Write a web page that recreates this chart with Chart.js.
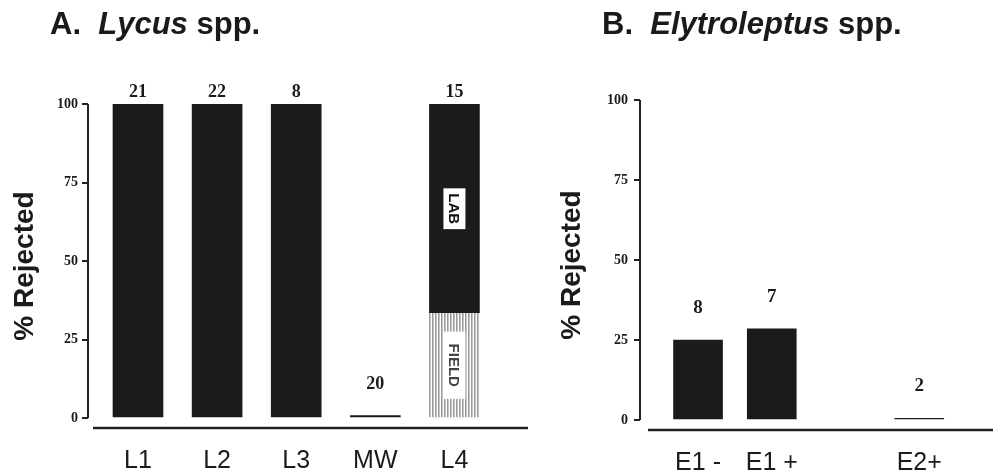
<!DOCTYPE html>
<html>
<head>
<meta charset="utf-8">
<script src="https://cdn.jsdelivr.net/npm/chart.js@4.4.1/dist/chart.umd.min.js"></script>
<style>
body { margin: 0; background: #fff; }
#wrap { position: relative; width: 993px; height: 473px; overflow: hidden; }
canvas { position: absolute; top: 0; }
.ttl { position: absolute; top: 8px; font: bold 31px "Liberation Sans", Arial, sans-serif; color: #1a1a1a; white-space: pre; line-height: 1; }
</style>
</head>
<body>
<div id="wrap">
  <canvas id="chartA" width="535" height="473" style="left:0"></canvas>
  <canvas id="chartB" width="458" height="473" style="left:535px"></canvas>
  <div class="ttl" style="left:50px">A.  <i>Lycus</i> spp.</div>
  <div class="ttl" style="left:602px">B.  <i>Elytroleptus</i> spp.</div>
</div>
<script>
// A. Lycus spp.
var catsA = ["L1", "L2", "L3", "MW", "L4"];
var fieldA = [null, null, null, null, 33.3];
var labA = [100, 100, 100, 0.8, 66.7];
var countsA = ["21", "22", "8", "20", "15"];

// B. Elytroleptus spp. (blank slot keeps the gap before E2+)
var catsB = ["E1 -", "E1 +", "", "E2+"];
var rejB = [25, 28.5, null, 0.5];
var countsB = ["8", "7", "", "2"];

var yTicks = [0, 25, 50, 75, 100];
var ink = '#1b1b1b';

function stripes() {
    var c = document.createElement('canvas');
    c.width = 3; c.height = 4;
    var g = c.getContext('2d');
    g.fillStyle = '#fff'; g.fillRect(0, 0, 3, 4);
    g.fillStyle = '#9a9a9a'; g.fillRect(0, 0, 1, 4);
    g.fillStyle = '#c4c4c4'; g.fillRect(1, 0, 1, 4);
    return g.createPattern(c, 'repeat');
}

function pts(arr) {
    return arr.map(function (v, i) { return { x: i, y: v }; });
}

// axis lines, n above bars, LAB / FIELD boxes
var extras = {
    id: 'extras',
    afterDatasetsDraw: function (chart, args, opts) {
        var ctx = chart.ctx, x = chart.scales.x, y = chart.scales.y, area = chart.chartArea;
        ctx.save();
        ctx.strokeStyle = '#222';
        ctx.lineWidth = 2;
        ctx.beginPath();
        ctx.moveTo(area.left, y.getPixelForValue(100));
        ctx.lineTo(area.left, y.getPixelForValue(0));
        ctx.stroke();
        ctx.lineWidth = 2.5;
        ctx.beginPath();
        ctx.moveTo(area.left + opts.gap, area.bottom);
        ctx.lineTo(area.right, area.bottom);
        ctx.stroke();

        ctx.font = 'bold ' + opts.nSize + 'px "Liberation Serif"';
        ctx.fillStyle = ink;
        ctx.textAlign = 'center';
        ctx.textBaseline = 'middle';
        opts.counts.forEach(function (c, i) {
            var top = 0;
            chart.data.datasets.forEach(function (ds) { top += ds.data[i].y || 0; });
            ctx.fillText(c, x.getPixelForValue(i), y.getPixelForValue(Math.min(top + 10, 103.8)));
        });

        chart.data.datasets.forEach(function (ds, d) {
            if (!ds.boxLabel) return;
            chart.getDatasetMeta(d).data.forEach(function (el, i) {
                if (opts.split[i] == null) return;
                var cx = el.x, cy = (el.y + el.base) / 2;
                ctx.save();
                ctx.translate(cx, cy);
                ctx.rotate(Math.PI / 2);
                ctx.font = 'bold 15px "Liberation Sans"';
                var w = ctx.measureText(ds.boxLabel).width + ds.boxPad * 2;
                ctx.fillStyle = '#fff';
                ctx.fillRect(-w / 2, -11, w, 22);
                ctx.fillStyle = ds.boxText;
                ctx.fillText(ds.boxLabel, 0, 1);
                ctx.restore();
            });
        });
        ctx.restore();
    }
};

function makeOptions(cfg) {
    return {
        responsive: false,
        animation: false,
        layout: { padding: { top: cfg.top, right: cfg.right, left: 0, bottom: 0 } },
        plugins: {
            legend: { display: false },
            tooltip: { enabled: false },
            extras: { gap: cfg.gap, counts: cfg.counts, split: cfg.split, nSize: cfg.nSize }
        },
        scales: {
            x: {
                type: 'linear',
                offset: false,
                min: cfg.xMin,
                max: cfg.xMax,
                stacked: true,
                grid: { display: false, offset: false },
                border: { display: false },
                afterBuildTicks: function (s) {
                    s.ticks = cfg.cats.map(function (c, i) { return { value: i }; });
                },
                afterFit: function (s) { s.height = cfg.xHeight; },
                ticks: {
                    autoSkip: false,
                    maxRotation: 0,
                    padding: 10,
                    color: ink,
                    font: { family: '"Liberation Sans"', size: 25 },
                    callback: function (v) { return cfg.cats[v]; }
                }
            },
            y: {
                min: cfg.yMin,
                max: 100,
                stacked: true,
                afterBuildTicks: function (s) {
                    s.ticks = yTicks.map(function (v) { return { value: v }; });
                },
                afterFit: function (s) { s.width = cfg.yWidth; },
                grid: { drawOnChartArea: false, tickLength: 6, color: '#222', lineWidth: 2 },
                border: { display: false },
                ticks: {
                    padding: cfg.tickPad,
                    color: ink,
                    font: { family: '"Liberation Serif"', size: 14, weight: 'bold' }
                },
                title: {
                    display: true,
                    text: '% Rejected',
                    padding: { top: cfg.titlePad, bottom: 0 },
                    color: ink,
                    font: { family: '"Liberation Sans"', size: 28, weight: 'bold' }
                }
            }
        }
    };
}

new Chart(document.getElementById('chartA'), {
    type: 'bar',
    data: {
        datasets: [
            {
                data: pts(fieldA),
                backgroundColor: stripes(),
                barThickness: 50,
                boxLabel: 'FIELD', boxPad: 12, boxText: '#444'
            },
            {
                data: pts(labA),
                backgroundColor: ink,
                barThickness: 50,
                boxLabel: 'LAB', boxPad: 5, boxText: '#111'
            }
        ]
    },
    options: makeOptions({
        cats: catsA, counts: countsA, split: fieldA,
        top: 104, right: 7, xHeight: 45, yWidth: 88,
        xMin: -0.632, xMax: 4.93, yMin: -3.18,
        tickPad: 4, titlePad: 8, gap: 5, nSize: 18
    }),
    plugins: [extras]
});

new Chart(document.getElementById('chartB'), {
    type: 'bar',
    data: {
        datasets: [
            {
                data: pts(rejB),
                backgroundColor: ink,
                barThickness: 49
            }
        ]
    },
    options: makeOptions({
        cats: catsB, counts: countsB, split: [],
        top: 100, right: 0, xHeight: 43, yWidth: 105,
        xMin: -0.787, xMax: 4.0, yMin: -3.125,
        tickPad: 6, titlePad: 20, gap: 8, nSize: 19
    }),
    plugins: [extras]
});
</script>
</body>
</html>
